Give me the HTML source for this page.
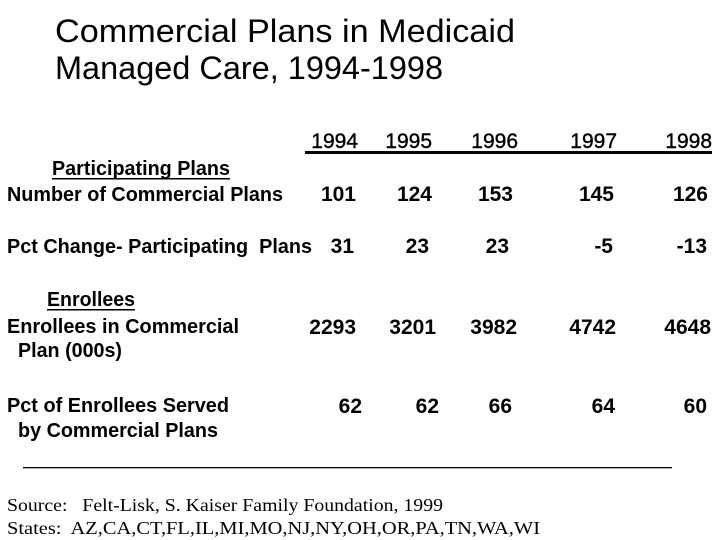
<!DOCTYPE html>
<html><head><meta charset="utf-8"><style>
html,body{margin:0;padding:0;background:#fff;}
svg{display:block;}
text{white-space:pre;}
.t{font-family:"Liberation Sans",Arial,sans-serif;font-size:32px;fill:#000;}
.b{font-family:"Liberation Sans",Arial,sans-serif;font-size:20px;font-weight:bold;fill:#000;}
.n{font-family:"Liberation Sans",Arial,sans-serif;font-size:21px;font-weight:bold;fill:#000;text-anchor:end;}
.y{font-family:"Liberation Sans",Arial,sans-serif;font-size:21px;fill:#000;stroke:#000;stroke-width:0.4;text-anchor:end;}
.s{font-family:"Liberation Serif","Times New Roman",serif;font-size:18px;fill:#000;}
</style></head><body>
<svg width="720" height="540" viewBox="0 0 720 540" xmlns="http://www.w3.org/2000/svg" xml:space="preserve">
<rect width="720" height="540" fill="#fff"/>
<text class="t" x="55" y="42" textLength="460" lengthAdjust="spacingAndGlyphs">Commercial Plans in Medicaid</text>
<text class="t" x="55" y="79" textLength="388" lengthAdjust="spacingAndGlyphs">Managed Care, 1994-1998</text>

<text class="y" x="358" y="148">1994</text>
<text class="y" x="432" y="148">1995</text>
<text class="y" x="518" y="148">1996</text>
<text class="y" x="617" y="148">1997</text>
<text class="y" x="712" y="148">1998</text>
<rect x="305" y="151" width="407" height="3" fill="#000"/>

<text class="b" x="52" y="175" textLength="178" lengthAdjust="spacingAndGlyphs">Participating Plans</text>
<rect x="52" y="178" width="178" height="1.5" fill="#000"/>
<text class="b" x="7" y="201" textLength="276" lengthAdjust="spacingAndGlyphs">Number of Commercial Plans</text>
<text class="b" x="7" y="253" textLength="305" lengthAdjust="spacingAndGlyphs">Pct Change- Participating  Plans</text>

<text class="b" x="47" y="306" textLength="88" lengthAdjust="spacingAndGlyphs">Enrollees</text>
<rect x="47" y="309" width="88" height="1.5" fill="#000"/>
<text class="b" x="7" y="333" textLength="232" lengthAdjust="spacingAndGlyphs">Enrollees in Commercial</text>
<text class="b" x="18" y="357" textLength="104" lengthAdjust="spacingAndGlyphs">Plan (000s)</text>
<text class="b" x="7" y="412" textLength="222" lengthAdjust="spacingAndGlyphs">Pct of Enrollees Served</text>
<text class="b" x="18" y="437" textLength="200" lengthAdjust="spacingAndGlyphs">by Commercial Plans</text>

<text class="n" x="356" y="201">101</text>
<text class="n" x="432" y="201">124</text>
<text class="n" x="513" y="201">153</text>
<text class="n" x="614" y="201">145</text>
<text class="n" x="708" y="201">126</text>

<text class="n" x="354" y="253">31</text>
<text class="n" x="429" y="253">23</text>
<text class="n" x="509" y="253">23</text>
<text class="n" x="613" y="253">-5</text>
<text class="n" x="707" y="253">-13</text>

<text class="n" x="356" y="334">2293</text>
<text class="n" x="436" y="334">3201</text>
<text class="n" x="517" y="334">3982</text>
<text class="n" x="616" y="334">4742</text>
<text class="n" x="711" y="334">4648</text>

<text class="n" x="362" y="413">62</text>
<text class="n" x="439" y="413">62</text>
<text class="n" x="512" y="413">66</text>
<text class="n" x="615" y="413">64</text>
<text class="n" x="707" y="413">60</text>

<rect x="23" y="467" width="649" height="1.3" fill="#000"/>
<text class="s" x="7" y="511" textLength="436" lengthAdjust="spacingAndGlyphs">Source:   Felt-Lisk, S. Kaiser Family Foundation, 1999</text>
<text class="s" x="7" y="534" textLength="533" lengthAdjust="spacingAndGlyphs">States:  AZ,CA,CT,FL,IL,MI,MO,NJ,NY,OH,OR,PA,TN,WA,WI</text>
</svg>
</body></html>
